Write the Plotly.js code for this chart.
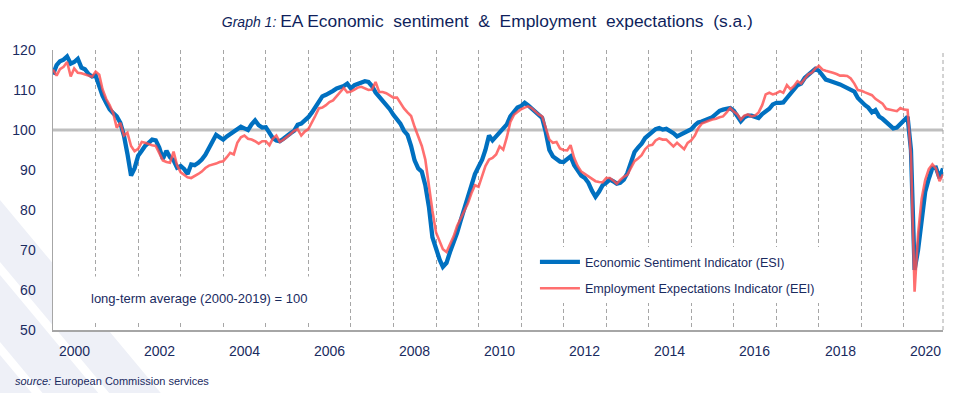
<!DOCTYPE html>
<html>
<head>
<meta charset="utf-8">
<script src="https://cdn.plot.ly/plotly-3.0.1.min.js"></script>
<style>html,body{margin:0;padding:0;background:#fff;}#chart{width:965px;height:393px;}</style>
</head>
<body>
<div id="chart"></div>
<script>
// Monthly data, Jan 2000 - Dec 2020 (long-term average 2000-2019 = 100)
var startYear = 2000;
var esi = [
113.9,116.2,117.2,117.6,118.4,116.6,117.0,117.8,115.6,115.2,114.0,113.4,
113.6,110.6,108.6,106.8,105.2,104.2,103.4,101.8,98.6,94.0,88.6,90.4,
93.6,94.8,96.0,96.8,97.6,97.4,95.6,92.8,94.8,93.2,92.4,90.6,
91.0,90.2,89.0,91.4,91.2,91.8,92.6,93.8,95.4,97.2,98.8,98.2,
97.6,98.4,98.9,99.6,100.2,100.8,100.4,100.0,101.4,102.4,101.2,100.6,
100.7,99.4,98.0,97.4,97.2,97.8,98.6,99.2,99.8,101.3,101.6,102.4,
103.2,104.4,105.6,107.2,108.4,108.8,109.2,109.8,110.4,110.6,111.0,111.6,
110.4,111.2,111.6,112.0,112.2,112.0,111.0,109.4,108.4,107.4,106.2,105.2,
103.8,102.8,101.6,99.8,98.8,96.0,92.4,90.4,89.6,86.2,80.8,73.2,
70.0,67.6,65.8,66.8,69.5,71.8,74.3,77.4,80.5,83.4,86.2,89.0,
90.8,92.6,95.0,98.6,97.4,98.4,99.6,100.2,101.4,103.4,104.6,105.6,
106.0,106.8,106.2,105.4,104.4,103.6,103.0,99.5,95.0,93.4,92.7,92.1,
92.0,92.6,93.4,91.2,89.8,88.6,88.0,86.8,84.8,83.3,84.6,86.2,
86.8,87.6,87.2,86.6,86.8,87.6,89.2,92.0,94.5,95.6,96.6,98.0,
98.8,99.4,100.2,100.5,100.1,100.3,99.8,99.2,98.4,98.8,99.2,99.8,
100.2,101.2,101.9,102.1,102.4,102.8,103.2,104.0,104.8,105.1,105.4,105.5,
104.8,103.6,102.2,103.2,103.6,103.6,103.4,103.0,104.0,104.7,105.3,106.4,
106.8,106.8,106.9,108.0,109.0,110.4,111.2,111.6,113.0,113.8,114.4,115.3,
114.8,113.8,112.6,112.3,111.9,111.7,111.4,111.0,110.6,110.1,109.6,108.0,
107.0,106.2,105.6,104.4,105.0,103.4,102.8,102.0,101.1,100.4,100.6,101.5,
102.2,103.3,95.0,65.0,70.0,78.0,84.5,87.8,90.5,90.6,88.0,90.4
];
var eei = [
115.1,113.6,115.2,115.8,117.0,113.4,115.4,114.3,114.2,113.9,113.5,113.3,
114.6,113.8,110.2,107.8,106.2,104.2,100.6,101.8,98.6,99.3,96.0,94.7,
95.3,97.0,96.8,96.4,96.2,96.0,94.2,92.4,92.0,91.8,94.6,91.2,
89.4,88.8,88.2,88.0,88.4,89.0,89.6,90.5,91.1,91.3,91.6,92.0,
92.2,93.2,94.3,93.9,96.8,98.2,98.6,97.8,97.6,97.2,96.6,97.2,
97.2,96.2,97.8,98.6,97.0,97.6,98.2,99.0,99.8,100.2,98.6,99.6,
100.2,101.8,103.5,105.4,105.6,106.2,107.0,107.4,108.4,109.4,110.5,109.4,
109.6,110.1,110.6,110.8,110.5,110.0,110.1,112.0,109.5,109.5,109.2,108.6,
108.1,108.1,106.8,105.4,104.4,103.5,100.8,98.4,96.0,92.6,85.4,79.8,
74.4,72.0,70.2,69.5,71.5,73.4,76.0,77.8,79.8,81.6,84.2,86.2,
85.8,88.6,91.0,92.6,93.0,93.9,95.9,95.1,98.2,102.0,103.8,104.5,
105.2,105.6,105.9,105.5,104.6,103.9,103.4,100.6,97.6,96.8,97.0,95.4,
95.0,94.9,96.2,93.0,91.0,89.6,89.0,88.4,87.8,87.2,87.0,86.9,
88.0,88.0,87.4,86.6,87.5,88.3,88.8,90.6,92.2,92.9,93.7,95.2,
96.1,96.3,97.4,97.9,97.6,97.6,96.8,95.9,96.8,95.9,95.2,96.8,
97.4,98.6,100.4,101.6,102.0,102.3,102.6,102.8,103.2,103.4,104.4,105.5,
104.6,103.9,102.6,103.6,103.9,103.4,103.6,104.4,106.2,108.9,109.3,108.9,
109.2,109.7,109.3,111.2,110.2,111.0,112.2,111.6,112.8,113.9,114.3,115.4,
116.0,115.1,114.8,114.6,114.3,114.0,113.6,113.6,113.5,112.9,111.6,110.0,
109.8,109.4,109.0,108.7,107.8,107.2,106.6,105.3,105.1,105.0,104.7,105.5,
105.1,105.0,93.5,59.6,74.0,82.8,87.5,90.2,91.4,90.4,87.2,88.9
];
var yearLabels = ['2000','2002','2004','2006','2008','2010','2012','2014','2016','2018','2020'];
var seriesNames = ['Economic Sentiment Indicator (ESI)', 'Employment Expectations Indicator (EEI)'];

// month categories
var months = esi.map(function (v, i) {
  var y = startYear + Math.floor(i / 12);
  var m = (i % 12) + 1;
  return y + '-' + (m < 10 ? '0' + m : m) + '-01';
});

var navy = '#1a2b5f';
var fontFam = 'Liberation Sans, Arial, sans-serif';

var traces = [
  {x: months, y: esi, type: 'scatter', mode: 'lines', name: seriesNames[0],
   line: {color: '#0070c0', width: 4.3}, legendgroup: 'a', hoverinfo: 'x+y'},
  {x: months, y: eei, type: 'scatter', mode: 'lines', name: seriesNames[1],
   line: {color: '#ff4f4f', width: 2.6}, opacity: 0.82, legendgroup: 'b', hoverinfo: 'x+y'}
];

var annotations = yearLabels.map(function (t) {
  return {x: t + '-07-01', xref: 'x', y: -0.075, yref: 'paper', text: t, showarrow: false,
          xanchor: 'center', yanchor: 'middle', font: {family: fontFam, size: 14, color: navy}};
});
annotations.push({x: 0.164, y: 0.111, xref: 'paper', yref: 'paper', showarrow: false,
  text: 'long-term average (2000-2019) = 100', bgcolor: '#ffffff', borderpad: 14,
  font: {family: fontFam, size: 13, color: navy}, xanchor: 'center', yanchor: 'middle'});
annotations.push({x: -0.045, y: -0.182, xref: 'paper', yref: 'paper', showarrow: false,
  text: '<i>source:</i> European Commission services', xanchor: 'left', yanchor: 'middle',
  font: {family: fontFam, size: 11, color: navy}});

// decorative light stripes in the lower-left margin (pixel -> paper)
function P(px, py) { return ((px - 53) / 890).toFixed(4) + ',' + ((330 - py) / 280).toFixed(4); }
var stripeFill = '#eef0f7';
var shapes = [
  {type: 'path', xref: 'paper', yref: 'paper', layer: 'below', line: {width: 0}, fillcolor: stripeFill,
   path: 'M' + P(0, 200) + 'L' + P(53, 263.6) + 'L' + P(53, 325.6) + 'L' + P(0, 262) + 'Z' +
         'M' + P(56.7, 330) + 'L' + P(108.3, 330) + 'L' + P(160.8, 393) + 'L' + P(109.2, 393) + 'Z'},
  {type: 'path', xref: 'paper', yref: 'paper', layer: 'below', line: {width: 0}, fillcolor: stripeFill,
   path: 'M' + P(0, 275) + 'L' + P(98.3, 393) + 'L' + P(42.5, 393) + 'L' + P(0, 342) + 'Z'},
  {type: 'path', xref: 'paper', yref: 'paper', layer: 'below', line: {width: 0}, fillcolor: stripeFill,
   path: 'M' + P(0, 355) + 'L' + P(31.7, 393) + 'L' + P(0, 393) + 'Z'},
  // long-term average reference line
  {type: 'line', xref: 'paper', x0: 0, x1: 1, yref: 'y', y0: 100, y1: 100, layer: 'below',
   line: {color: '#bfbfbf', width: 3}},
  // right edge dashed line
  {type: 'line', xref: 'paper', x0: 1, x1: 1, yref: 'paper', y0: 0, y1: 1, layer: 'below',
   line: {color: '#a6a6a6', width: 1, dash: '4px,3px'}}
];

var layout = {
  width: 965, height: 393,
  margin: {l: 53, r: 22, t: 50, b: 63},
  paper_bgcolor: 'rgba(0,0,0,0)', plot_bgcolor: 'rgba(0,0,0,0)',
  font: {family: fontFam, size: 14, color: navy},
  title: {
    text: '<i>Graph 1:</i> <span style="font-size:17.4px">EA Economic&nbsp; sentiment&nbsp; &amp;&nbsp; Employment&nbsp; expectations&nbsp; (s.a.)</span>',
    font: {family: fontFam, size: 14, color: '#0f1f5c'},
    x: 0.505, xanchor: 'center', y: 0.945, yanchor: 'middle', yref: 'container'
  },
  xaxis: {
    type: 'date', range: ['2000-01-01', '2020-12-01'],
    tickmode: 'linear', tick0: '2000-01-01', dtick: 'M12',
    showticklabels: false, ticks: '',
    showgrid: true, gridcolor: '#a6a6a6', gridwidth: 1, griddash: '4px,3px',
    showline: true, linecolor: '#a6a6a6', linewidth: 1.5, zeroline: false, fixedrange: true
  },
  yaxis: {
    range: [50, 120], tickmode: 'linear', tick0: 50, dtick: 10,
    showgrid: false, zeroline: false, showline: true, linecolor: '#a6a6a6', linewidth: 1.5,
    ticks: 'outside', ticklen: 13, tickcolor: 'rgba(0,0,0,0)',
    tickfont: {family: fontFam, size: 14, color: navy}, fixedrange: true
  },
  showlegend: true,
  legend: {
    x: 0.5415, y: 0.296, xanchor: 'left', yanchor: 'top', xref: 'paper', yref: 'paper',
    bgcolor: '#ffffff', borderwidth: 0, tracegroupgap: 7, traceorder: 'grouped',
    font: {family: fontFam, size: 12.6, color: navy}, itemwidth: 40
  },
  shapes: shapes,
  annotations: annotations
};

Plotly.newPlot('chart', traces, layout, {displayModeBar: false, staticPlot: true});
</script>
</body>
</html>
